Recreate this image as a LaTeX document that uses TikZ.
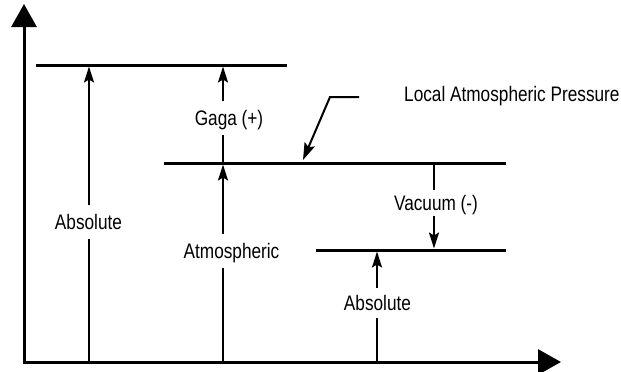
\documentclass[tikz,border=0pt]{standalone}
\usepackage{fontspec}
\setmainfont{Liberation Sans}[FakeStretch=0.82]
\usetikzlibrary{arrows.meta}
\begin{document}
\begin{tikzpicture}[x=1pt,y=-1pt,
  axis/.style={line width=3pt,-{Triangle[length=23pt,width=25pt]}},
  level/.style={line width=3pt},
  meas/.style={line width=2pt},
  measarrow/.style={line width=2pt,-{Stealth[length=16pt,width=10pt,inset=3pt]}},
  lbl/.style={font=\fontsize{21}{24}\selectfont,inner sep=0pt,text height=15pt,text depth=0pt,minimum width=10pt}]
\useasboundingbox (0,0) rectangle (621,372);
% axes
\coordinate (O) at (24,362);
\coordinate (Ytop) at (24,4);
\coordinate (Xstart) at (22.5,362);
\coordinate (Xend) at (561,362);
\draw[axis] (O) -- (Ytop);
\draw[axis] (Xstart) -- (Xend);
% level lines
\coordinate (T1) at (36,65);   \coordinate (T2) at (287,65);
\coordinate (M1) at (164,163); \coordinate (M2) at (506,163);
\coordinate (B1) at (316,250); \coordinate (B2) at (506,250);
\draw[level] (T1) -- (T2);
\draw[level] (M1) -- (M2);
\draw[level] (B1) -- (B2);
% labels
\node[lbl,minimum height=33pt] (absL) at (88.5,222) {Absolute};
\node[lbl,minimum height=34pt] (atm) at (231.5,251) {Atmospheric};
\node[lbl,minimum height=33pt] (gaga) at (229,118) {Gaga (+)};
\node[lbl,minimum height=25pt] (vac) at (436,203) {Vacuum (-)};
\node[lbl,minimum height=30pt] (absR) at (377.5,303) {Absolute};
\node[lbl,anchor=west] (lap) at (404,94) {Local Atmospheric Pressure};
% left absolute
\coordinate (a0) at (89,362); \coordinate (a1) at (89,66.5);
\draw[meas] (a0) -- (a0 |- absL.south);
\draw[measarrow] (a0 |- absL.north) -- (a1);
% atmospheric
\coordinate (b0) at (223,362); \coordinate (b1) at (223,164.5);
\draw[meas] (b0) -- (b0 |- atm.south);
\draw[measarrow] (b0 |- atm.north) -- (b1);
% gauge
\coordinate (g0) at (223,161.5); \coordinate (g1) at (223,66.5);
\draw[meas] (g0) -- (g0 |- gaga.south);
\draw[measarrow] (g0 |- gaga.north) -- (g1);
% vacuum
\coordinate (v0) at (434,164.5); \coordinate (v1) at (434,248.5);
\draw[meas] (v0) -- (v0 |- vac.north);
\draw[measarrow] (v0 |- vac.south) -- (v1);
% right absolute
\coordinate (r0) at (377,362); \coordinate (r1) at (377,251.5);
\draw[meas] (r0) -- (r0 |- absR.south);
\draw[measarrow] (r0 |- absR.north) -- (r1);
% leader
\coordinate (ld1) at (359,97); \coordinate (ld2) at (330,97); \coordinate (ld3) at (303,160);
\draw[line width=2pt,-{Stealth[length=17pt,width=11pt,inset=3pt]}] (ld1) -- (ld2) -- (ld3);
\end{tikzpicture}
\end{document}
